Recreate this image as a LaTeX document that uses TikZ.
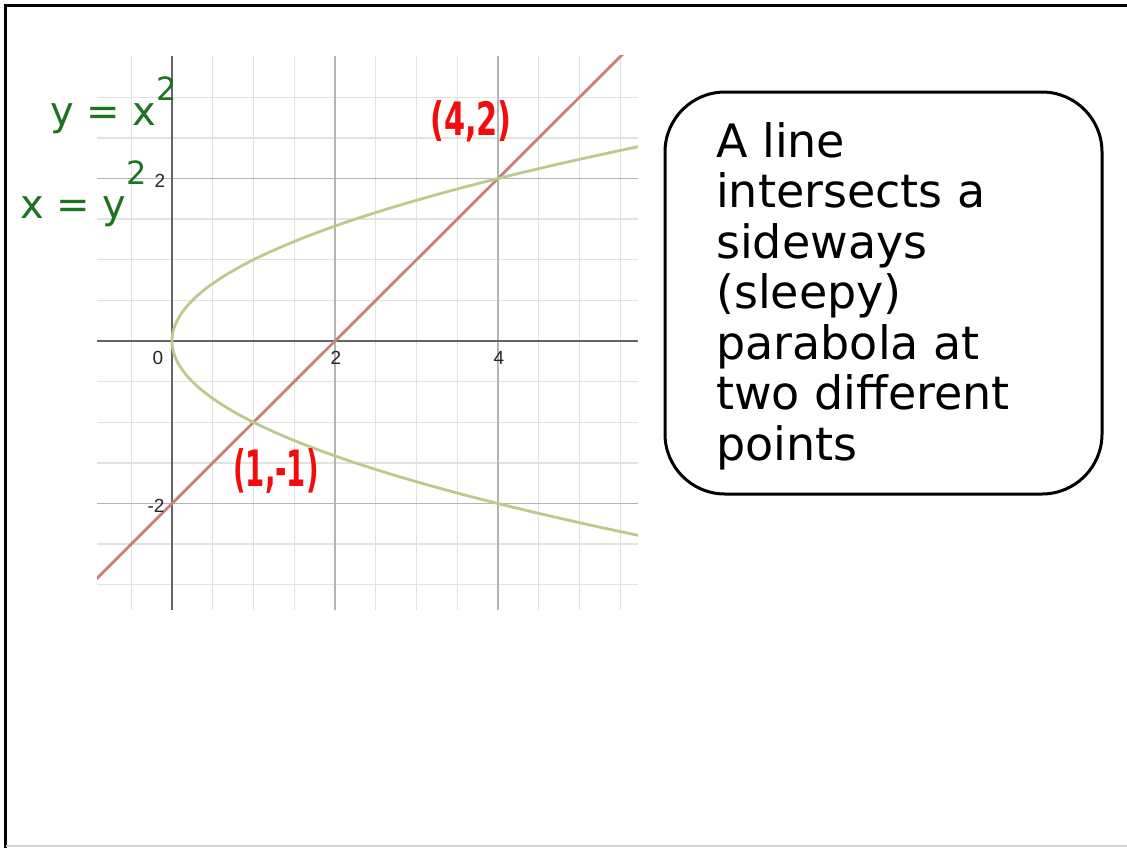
\documentclass[tikz,border=0pt]{standalone}
\usepackage{fontspec}
\usepackage{graphicx}
\setmainfont{DejaVu Sans}
\newfontfamily\tickfont{Liberation Sans}
\definecolor{minorgrid}{RGB}{226,226,226}
\definecolor{majorgrid}{RGB}{180,180,180}
\definecolor{axiscol}{RGB}{100,100,100}
\definecolor{linecol}{RGB}{202,128,122}
\definecolor{parcol}{RGB}{188,202,142}
\definecolor{handgreen}{RGB}{30,115,30}
\definecolor{handred}{RGB}{242,12,12}
\begin{document}
\begin{tikzpicture}[x=1pt,y=-1pt,
  tick/.style={font=\tickfont\fontsize{19}{19}\selectfont, text=black!85, inner sep=0pt},
  handg/.style={text=handgreen, inner sep=0pt, font=\fontsize{40}{40}\selectfont},
  handr/.style={text=handred, inner sep=0pt},
  minorline/.style={draw=minorgrid, line width=1.3pt},
  majorline/.style={draw=majorgrid, line width=1.3pt},
  axisline/.style={draw=axiscol, line width=1.8pt},
  frameline/.style={line width=3pt, line cap=rect}]
\useasboundingbox (0,0) rectangle (1127,847);
\fill[white] (0,0) rectangle (1127,847);
% outer frame
\draw[frameline] (5.5,848) -- (5.5,5.5) -- (1128,5.5);
\draw[black!18, line width=1.5pt] (5.5,846) -- (1127,846);
% graph
\begin{scope}[shift={(172pt,-341pt)}, x={(81.5pt,0pt)}, y={(0pt,81.25pt)}]
  \clip (-0.92,-3.311) rectangle (5.718,3.508);
  \foreach \i in {-0.5,0,...,5.5} \draw[minorline] (\i,-3.311) -- (\i,3.508);
  \foreach \j in {-3,-2.5,...,3} \draw[minorline] (-0.92,\j) -- (5.718,\j);
  \foreach \i in {2,4} \draw[majorline] (\i,-3.311) -- (\i,3.508);
  \foreach \j in {-2,2} \draw[majorline] (-0.92,\j) -- (5.718,\j);
  \draw[axisline] (-0.92,0) -- (5.718,0);
  \draw[axisline] (0,-3.311) -- (0,3.508);
  \draw[linecol, line width=2.8pt] (-1.5,-3.5) -- (6,4);
  \draw[parcol, line width=2.8pt, domain=-2.45:2.45, samples=120, smooth, variable=\t] plot ({\t*\t},{\t});
\end{scope}
% tick labels
\node[tick] (t0) at (158,358) {0};
\node[tick] (tx2) at (336,358) {2};
\node[tick] (tx4) at (499,358) {4};
\node[tick] (ty2) at (160,181) {2};
\node[tick] (tym2) at (156,506) {-2};
% handwritten labels
\node[handg, anchor=base west] (eqa) at (50,125) {y = x\raisebox{0.62em}{\fontsize{32}{32}\selectfont 2}};
\node[handg, anchor=base west] (eqb) at (20,218) {x = y\raisebox{0.85em}{\fontsize{32}{32}\selectfont 2}};
\node[handr, font=\bfseries\fontsize{46}{46}\selectfont] (p42) at (471,121) {\scalebox{0.66}[1]{(4,2)}};
\node[handr, font=\bfseries\fontsize{50}{50}\selectfont] (p11) at (276,471) {\scalebox{0.55}[1]{(1,-1)}};
% text box
\node[draw, line width=3pt, rounded corners=60pt, minimum width=437pt, minimum height=402pt, inner sep=0pt] (box) at (883.5,293) {};
\node[anchor=north west, inner sep=0pt, align=left, font=\fontsize{46}{50.5}\selectfont] (txt) at (716,122)
  {A line\\intersects a\\sideways\\(sleepy)\\parabola at\\two different\\points};
\end{tikzpicture}
\end{document}
